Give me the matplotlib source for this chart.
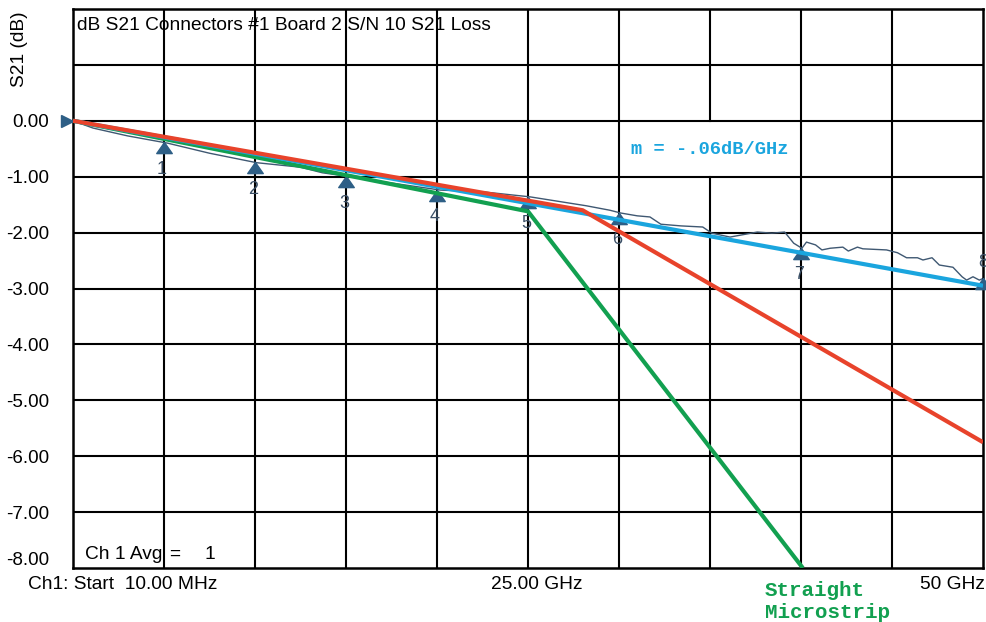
import matplotlib
matplotlib.use('Agg')
import matplotlib.pyplot as plt
import numpy as np
from matplotlib.path import Path

plt.rcParams['font.family'] = ['Liberation Sans', 'DejaVu Sans']

freq_ghz = [0, 1.1, 3.0, 5.2, 7.5, 10.1, 12.5, 13.7, 15.0, 16.8, 20.2, 22.5, 25.1,
            28.2, 29.5, 30.1, 31.0, 31.7, 32.3, 33.4, 34.6, 35.1, 36.1, 37.6, 38.4,
            39.1, 39.6, 40.05, 40.3, 40.8, 41.15, 41.6, 42.3, 42.6, 43.1, 43.4, 44.7,
            45.3, 45.8, 46.4, 46.7, 47.2, 47.6, 48.35, 48.85, 49.1, 49.45, 49.8, 50.0]
trace_db = [0, -0.13, -0.27, -0.40, -0.58, -0.75, -0.83, -0.93, -0.99, -1.08, -1.24, -1.27, -1.36,
            -1.52, -1.60, -1.65, -1.70, -1.72, -1.85, -1.88, -1.90, -2.01, -2.08, -1.99, -2.01,
            -1.99, -2.19, -2.28, -2.17, -2.22, -2.31, -2.28, -2.26, -2.33, -2.26, -2.29, -2.31,
            -2.36, -2.45, -2.45, -2.49, -2.45, -2.58, -2.62, -2.79, -2.85, -2.79, -2.85, -2.82]

marker_ghz = [5, 10, 15, 20, 25, 30, 40, 50]
marker_ids = ['1', '2', '3', '4', '5', '6', '7', '8']

# fitted lines drawn over the trace
blue_ghz = [0, 50]
blue_db = [0, -2.95]
red_ghz = [0, 28, 50]
red_db = [0, -1.6, -5.75]
green_ghz = [0, 25, 40.1]
green_db = [0, -1.62, -8.0]

ytick_vals = [0, -1, -2, -3, -4, -5, -6, -7]
ytick_labels = ['0.00', '-1.00', '-2.00', '-3.00', '-4.00', '-5.00', '-6.00', '-7.00']

fig = plt.figure(figsize=(9.87, 6.22), dpi=100)
ax = fig.add_axes([73 / 987, 1 - 568 / 622, 910 / 987, 559 / 622])
ax.set_xlim(0, 50)
ax.set_ylim(-8, 2)

# grid (the 35 GHz line is broken behind the slope label)
for x in np.arange(5, 50, 5):
    if x == 35:
        ax.plot([x, x], [-8, -1], color='black', lw=1.5, zorder=1)
        ax.plot([x, x], [0, 2], color='black', lw=1.5, zorder=1)
    else:
        ax.plot([x, x], [-8, 2], color='black', lw=1.5, zorder=1)
for y in range(-7, 2):
    ax.plot([0, 50], [y, y], color='black', lw=1.5, zorder=1)
for s in ax.spines.values():
    s.set_linewidth(1.8)

ax.plot(freq_ghz, trace_db, color='#3f5872', lw=1.0, zorder=2)

# markers: triangle with apex on the trace
tri = Path([(0, 0), (-0.7, -1), (0.7, -1), (0, 0)],
           [Path.MOVETO, Path.LINETO, Path.LINETO, Path.CLOSEPOLY])
marker_db = np.interp(marker_ghz, freq_ghz, trace_db)
ax.plot(marker_ghz, marker_db, linestyle='none', marker=tri, markersize=16,
        color='#2e5f86', zorder=3, clip_on=False)
for f, d, lab in zip(marker_ghz, marker_db, marker_ids):
    dy = 16 if lab == '8' else -27
    ax.annotate(lab, (f, d), xytext=(-2 if lab != '8' else 0, dy), textcoords='offset pixels',
                ha='center', va='center', fontsize=13, color='#3a4f66', zorder=3,
                annotation_clip=False)
ax.plot([-0.35], [0], linestyle='none', marker='>', markersize=8, color='#2e5f86',
        clip_on=False, zorder=3)

ax.plot(green_ghz, green_db, color='#12a050', lw=3.0, zorder=4, solid_capstyle='butt')
ax.plot(blue_ghz, blue_db, color='#1aa5de', lw=3.0, zorder=5, solid_capstyle='butt')
ax.plot(red_ghz, red_db, color='#e8432b', lw=3.0, zorder=6, solid_capstyle='butt')

ax.set_xticks([])
ax.set_yticks(ytick_vals)
ax.set_yticklabels(ytick_labels)
ax.tick_params(axis='y', length=0, pad=17, labelsize=13.5)
# bottom label sits a little above its grid line, as on the instrument screen
ax.text(-1.3, -7.86, '-8.00', fontsize=13.5, ha='right', va='center', clip_on=False)

ax.text(0.22, 1.7, 'dB S21 Connectors #1 Board 2 S/N 10 S21 Loss', fontsize=13.8,
        ha='left', va='center')
ax.text(0.66, -7.75, 'Ch 1 Avg', fontsize=13.8, ha='left', va='center')
ax.text(5.3, -7.75, '=', fontsize=13.8, ha='left', va='center')
ax.text(7.2, -7.75, '1', fontsize=13.8, ha='left', va='center')

ax.text(35, -0.52, 'm = -.06dB/GHz', family='Liberation Mono', fontweight='bold',
        fontsize=13.5, color='#1aa5de', ha='center', va='center', zorder=7)

ax.text(-2.45, -8.29, 'Ch1: Start  10.00 MHz', fontsize=13.8, ha='left', va='center',
        clip_on=False)
ax.text(25.5, -8.29, '25.00 GHz', fontsize=13.8, ha='center', va='center', clip_on=False)
ax.text(50.1, -8.29, '50 GHz', fontsize=13.8, ha='right', va='center', clip_on=False)
ax.text(38.0, -8.6, 'Straight\nMicrostrip', family='Liberation Mono', fontweight='bold',
        fontsize=15, color='#12a050', ha='left', va='center', linespacing=1.2,
        clip_on=False)

fig.text(20 / 987, 1 - 49 / 622, 'S21 (dB)', rotation=90, fontsize=13.8,
         ha='center', va='center')

fig.savefig('out.png', dpi=100)
